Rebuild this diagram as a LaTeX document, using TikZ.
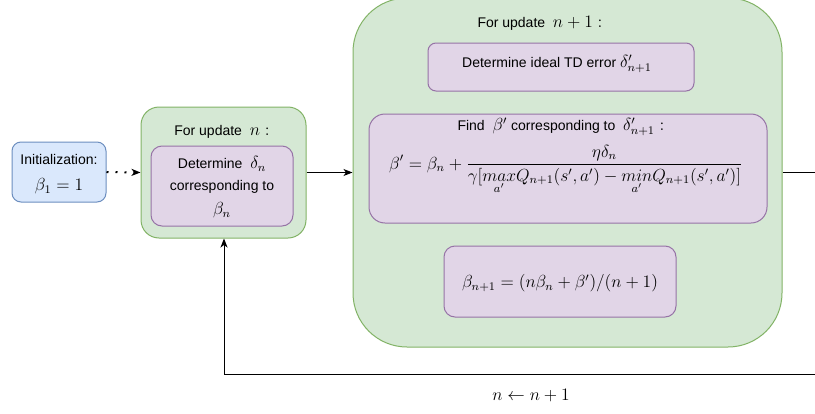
\documentclass[tikz,border=0pt]{standalone}
\usepackage{amsmath}
\usepackage{graphicx}
\usepackage{fontspec}
\setmainfont{Liberation Sans}
\usetikzlibrary{arrows.meta}

\definecolor{blueFill}{HTML}{DAE8FC}
\definecolor{blueLine}{HTML}{6C8EBF}
\definecolor{greenFill}{HTML}{D5E8D4}
\definecolor{greenLine}{HTML}{82B366}
\definecolor{purpleFill}{HTML}{E1D5E7}
\definecolor{purpleLine}{HTML}{9673A6}

% math is set at 12pt and enlarged to about 17.5pt, beside 14pt labels
\newcommand{\mth}[1]{\scalebox{1.458}{\fontsize{12}{14}\selectfont$#1$}}

\begin{document}
\begin{tikzpicture}[x=1pt,y=-1pt,
  txt/.style={font=\fontsize{14}{16}\selectfont, inner sep=0pt, align=center},
  boxbase/.style={draw, line width=1pt, inner sep=0pt},
  initbox/.style={boxbase, fill=blueFill, draw=blueLine},
  groupbox/.style={boxbase, fill=greenFill, draw=greenLine},
  stepbox/.style={boxbase, fill=purpleFill, draw=purpleLine},
  conn/.style={line width=1pt, -{Stealth[length=9pt,width=7pt,inset=2.5pt]}},
  plain/.style={line width=1pt}
]
\useasboundingbox (0,0) rectangle (815,413);

% initialization
\node[initbox, minimum width=94pt, minimum height=60pt, rounded corners=9pt] (init) at (59,172) {};
\node[txt] (initT) at (59,159) {Initialization:};
\node[txt] (initM) at (59,186) {\mth{\beta_1=1}};

% update n
\node[groupbox, minimum width=165pt, minimum height=131pt, rounded corners=18pt] (upd) at (223.5,172.5) {};
\node[txt] (updT) at (222,132) {For update \ \mth{n:}};
\node[stepbox, minimum width=142pt, minimum height=80pt, rounded corners=11pt] (det) at (222,186) {};
\node[txt] (detA) at (222,164) {Determine \ \mth{\delta_n}};
\node[txt] (detB) at (222,187) {corresponding to};
\node[txt] (detC) at (222,210) {\mth{\beta_n}};

% update n+1
\node[groupbox, minimum width=429pt, minimum height=349pt, rounded corners=54pt] (big) at (567.5,172.5) {};
\node[txt] (bigT) at (540,23) {For update \ \mth{n+1 :}};

\node[stepbox, minimum width=266pt, minimum height=48pt, rounded corners=8pt] (ideal) at (561,67) {};
\node[txt] (idealT) at (557,64) {Determine ideal TD error \mth{\delta'_{n+1}}};

\node[stepbox, minimum width=398pt, minimum height=109pt, rounded corners=16pt] (find) at (568,168.5) {};
\node[txt] (findT) at (561,127) {Find \ \mth{\beta'} corresponding to \ \mth{\delta'_{n+1} :}};
\node[txt, anchor=base] (findM) at (566,169) {\mth{\displaystyle \beta'=\beta_n+\frac{\eta\delta_n}{\gamma[\underset{a'}{max}Q_{n+1}(s',a')-\underset{a'}{min}Q_{n+1}(s',a')]}}};

\node[stepbox, minimum width=232pt, minimum height=71pt, rounded corners=11pt] (avg) at (560,281.5) {};
\node[txt] (avgM) at (560,283) {\mth{\beta_{n+1}=(n\beta_n+\beta')/(n+1)}};

% loop label
\node[txt] (inc) at (531,396) {\mth{n\leftarrow n+1}};

% connectors
\coordinate (rEnd) at (815,172.5);
\coordinate (bR) at (815,374);
\coordinate (bL) at (224,374);

\draw[conn, line width=2pt, dash pattern=on 2pt off 7pt] (init.east) -- (upd.west);
\draw[conn] (upd.east) -- (upd.east -| big.west);
\draw[plain] (upd.east -| big.east) -- (rEnd);
\draw[conn] (bR) -- (bL) -- (bL |- upd.south);
\end{tikzpicture}
\end{document}
